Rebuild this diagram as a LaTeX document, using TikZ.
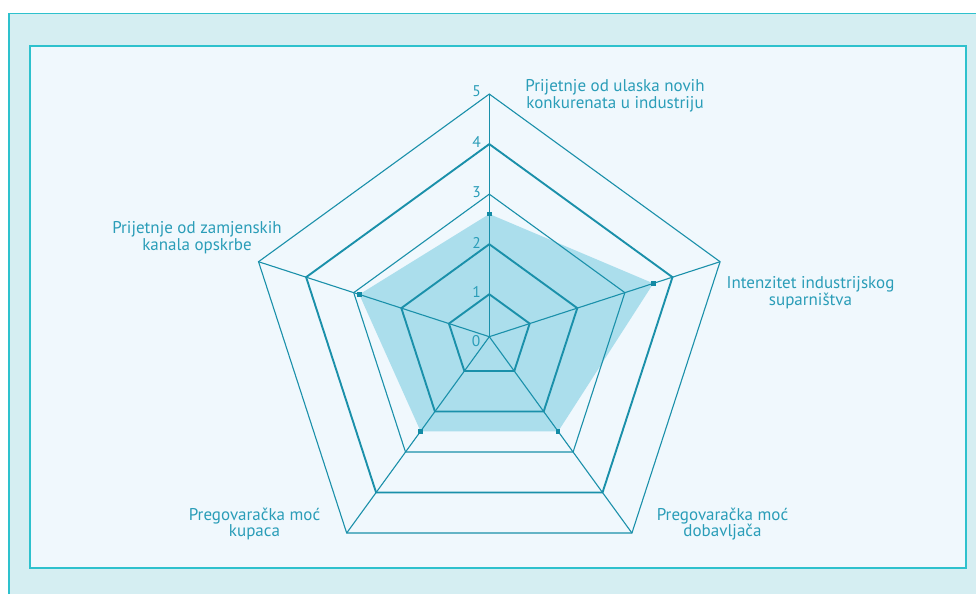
\documentclass[tikz,border=0pt]{standalone}
\usepackage{fontspec}
\setmainfont{PT Sans}
\definecolor{outerbg}{HTML}{D5EEF2}
\definecolor{bordercol}{HTML}{2EC1CD}
\definecolor{panelbg}{HTML}{F0F8FD}
\definecolor{gridcol}{HTML}{1A90AA}
\definecolor{datafill}{HTML}{ABDEEC}
\definecolor{textcol}{HTML}{2A9DB8}
\definecolor{markcol}{HTML}{138BA5}
\begin{document}
\begin{tikzpicture}[x=1pt,y=1pt,
  thinline/.style={draw=gridcol,line width=1.1pt,line join=miter},
  thickline/.style={draw=gridcol,line width=1.9pt,line join=miter},
  mk/.style={fill=markcol,minimum size=4.6pt,inner sep=0pt,outer sep=0pt,rectangle},
  lbl/.style={text=textcol,font=\fontsize{17}{16.7}\selectfont,align=center,inner sep=0pt},
  num/.style={text=textcol,font=\fontsize{15.5}{16}\selectfont,inner sep=0pt}]
\useasboundingbox (0,0) rectangle (976,-594);
\fill[outerbg] (8,-13) rectangle (976,-594);
\draw[bordercol,line width=1.5pt] (8.75,-594) -- (8.75,-13.75) -- (976,-13.75);
\fill[panelbg] (30,-46) rectangle (966,-568);
\draw[bordercol,line width=2pt] (30,-46) rectangle (966,-568);
\coordinate (c) at (489.3,-336.7);
\begin{scope}[shift={(c)}]
  % data polygon
  \coordinate (d1) at (90:122.7);
  \coordinate (d2) at (18:172.5);
  \coordinate (d3) at (-54:117.1);
  \coordinate (d4) at (-126:116.9);
  \coordinate (d5) at (162:136.7);
  \fill[datafill] (d1) -- (d2) -- (d3) -- (d4) -- (d5) -- cycle;
  % grid pentagons
  \foreach \k/\st in {1/thickline,2/thickline,3/thinline,4/thickline,5/thinline}{
    \pgfmathsetmacro{\r}{50.05*\k-7.6}
    \draw[\st] (90:\r) -- (18:\r) -- (-54:\r) -- (-126:\r) -- (162:\r) -- cycle;
  }
  % spokes
  \coordinate (v1) at (90:242.65);
  \coordinate (v2) at (18:242.65);
  \coordinate (v3) at (-54:242.65);
  \coordinate (v4) at (-126:242.65);
  \coordinate (v5) at (162:242.65);
  \coordinate (o) at (0,0);
  \foreach \v in {v2,v3,v4,v5}{\draw[thinline] (o) -- (\v);}
  \draw[thinline,line width=1.4pt] (o) -- (v1);
  % markers
  \node[mk] (m1) at (d1) {};
  \node[mk] (m2) at (d2) {};
  \node[mk] (m3) at (d3) {};
  \node[mk] (m4) at (d4) {};
  \node[mk] (m5) at (d5) {};
\end{scope}
% scale numbers
\node[num] (n0) at (476,-340.7) {0};
\node[num] (n1) at (476.5,-291.7) {1};
\node[num] (n2) at (476.5,-242.5) {2};
\node[num] (n3) at (476.5,-192.5) {3};
\node[num] (n4) at (476.5,-142) {4};
\node[num] (n5) at (476.5,-91.5) {5};
% axis labels
\node[lbl] (t1) at (615,-96) {Prijetnje od ulaska novih\\konkurenata u industriju};
\node[lbl] (t2) at (810.5,-293) {Intenzitet industrijskog\\suparništva};
\node[lbl] (t3) at (722.5,-524) {Pregovaračka moć\\dobavljača};
\node[lbl] (t4) at (254.5,-524) {Pregovaračka moć\\kupaca};
\node[lbl] (t5) at (197,-238) {Prijetnje od zamjenskih\\kanala opskrbe};
\end{tikzpicture}
\end{document}
